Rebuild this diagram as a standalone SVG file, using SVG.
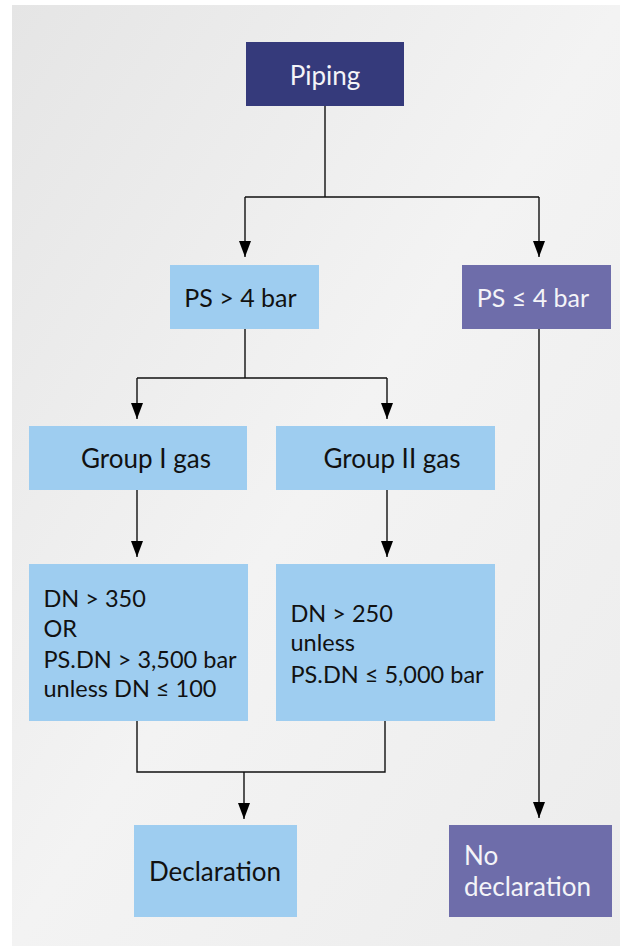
<svg xmlns="http://www.w3.org/2000/svg" width="620" height="947" viewBox="0 0 620 947">
<defs>
<linearGradient id="bg" x1="0" y1="0" x2="1" y2="1">
<stop offset="0" stop-color="#e5e5e5"/>
<stop offset="0.5" stop-color="#f3f3f3"/>
<stop offset="1" stop-color="#ececec"/>
</linearGradient>
<marker id="arr" viewBox="0 0 16 12" refX="16" refY="6" markerWidth="16" markerHeight="12" markerUnits="userSpaceOnUse" orient="auto">
<path d="M0,0 L16,6 L0,12 Z" fill="#000"/>
</marker>
</defs>
<style>
.t{font-family:Lato,"Source Sans Pro","Noto Sans",sans-serif;font-size:26px;}
.s{font-size:23.5px;}
.m{font-size:25px;}
.dark{fill:#353a7b;}
.blue{fill:#9ecdf0;}
.purple{fill:#6e6daa;}
.w{fill:#f4f4f8;}
.k{fill:#111;}
.c{fill:none;stroke:#111;stroke-width:1.4;}
</style>
<rect x="12" y="5" width="608" height="941" fill="url(#bg)"/>
<g id="connectors">
<path class="c" d="M325,106 V197 M245,197 H539"/>
<path class="c" d="M245,197 V257" marker-end="url(#arr)"/>
<path class="c" d="M539,197 V257" marker-end="url(#arr)"/>
<path class="c" d="M245,329 V378 M137,378 H387"/>
<path class="c" d="M137,378 V419" marker-end="url(#arr)"/>
<path class="c" d="M387,378 V419" marker-end="url(#arr)"/>
<path class="c" d="M137,490 V557" marker-end="url(#arr)"/>
<path class="c" d="M387,490 V557" marker-end="url(#arr)"/>
<path class="c" d="M137,721 V772 H385 V721"/>
<path class="c" d="M244,772 V819" marker-end="url(#arr)"/>
<path class="c" d="M539,329 V818" marker-end="url(#arr)"/>
</g>
<g id="piping">
<rect class="dark" x="246" y="42" width="158" height="64"/>
<text class="t w" x="325" y="85" text-anchor="middle">Piping</text>
</g>
<g id="ps-gt-4">
<rect class="blue" x="170" y="265" width="149" height="64"/>
<text class="t m k" x="240.5" y="307" text-anchor="middle">PS &gt; 4 bar</text>
</g>
<g id="ps-le-4">
<rect class="purple" x="462" y="265" width="149" height="64"/>
<text class="t m w" x="533" y="307" text-anchor="middle">PS ≤ 4 bar</text>
</g>
<g id="group1">
<rect class="blue" x="29" y="426" width="218" height="64"/>
<text class="t k" x="146" y="468" text-anchor="middle">Group I gas</text>
</g>
<g id="group2">
<rect class="blue" x="276" y="426" width="219" height="64"/>
<text class="t k" x="392" y="468" text-anchor="middle">Group II gas</text>
</g>
<g id="cond1">
<rect class="blue" x="29" y="564" width="219" height="157"/>
<text class="t s k" x="43.5" y="607">DN &gt; 350</text>
<text class="t s k" x="43.5" y="637">OR</text>
<text class="t s k" x="43.5" y="668">PS.DN &gt; 3,500 bar</text>
<text class="t s k" x="43.5" y="697">unless DN ≤ 100</text>
</g>
<g id="cond2">
<rect class="blue" x="276" y="564" width="219" height="157"/>
<text class="t s k" x="290.5" y="622">DN &gt; 250</text>
<text class="t s k" x="290.5" y="651">unless</text>
<text class="t s k" x="290.5" y="683">PS.DN ≤ 5,000 bar</text>
</g>
<g id="declaration">
<rect class="blue" x="134" y="825" width="163" height="92"/>
<text class="t k" x="215" y="881" text-anchor="middle">Declaration</text>
</g>
<g id="no-declaration">
<rect class="purple" x="449" y="825" width="163" height="92"/>
<text class="t w" x="464" y="865">No</text>
<text class="t w" x="464" y="896">declaration</text>
</g>
</svg>
